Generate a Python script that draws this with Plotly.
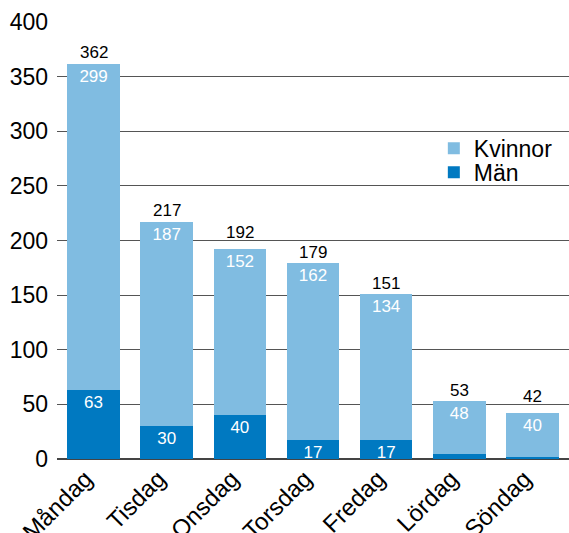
import plotly.graph_objects as go

days = ["Måndag", "Tisdag", "Onsdag", "Torsdag", "Fredag", "Lördag", "Söndag"]
man = [63, 30, 40, 17, 17, 5, 2]
kvinnor = [299, 187, 152, 162, 134, 48, 40]
totals = [m + k for m, k in zip(man, kvinnor)]

LIGHT = "#80bce1"
DARK = "#0079c1"
FONT = "Liberation Sans, Arial, Helvetica, sans-serif"

YMAX = 400
PLOT_H = 533 - 22 - 74
PX_PER_UNIT = PLOT_H / YMAX

fig = go.Figure()
fig.add_trace(go.Bar(
    x=days, y=man, name="Män", marker=dict(color=DARK, line=dict(width=0)),
    text=[str(v) if v >= 10 else "" for v in man],
    textposition="inside", insidetextanchor="end", textangle=0,
    constraintext="none", legend="legend2",
    textfont=dict(color="white", size=17, family=FONT),
))
fig.add_trace(go.Bar(
    x=days, y=kvinnor, name="Kvinnor", marker=dict(color=LIGHT, line=dict(width=0)),
    text=[str(v) for v in kvinnor],
    textposition="inside", insidetextanchor="end", textangle=0,
    constraintext="none", legend="legend",
    textfont=dict(color="white", size=17, family=FONT),
))

# total labels above the stacks, nudged up when they would sit on a gridline
for d, t in zip(days, totals):
    off = 11
    centre = t + off / PX_PER_UNIT
    nearest = round(centre / 50) * 50
    if abs(centre - nearest) * PX_PER_UNIT < 8:
        off = 17
    fig.add_annotation(x=d, y=t, text=str(t), showarrow=False, yanchor="middle",
                       yshift=off, font=dict(color="black", size=17, family=FONT))

legend_common = dict(xanchor="left", yanchor="top", font=dict(size=23, family=FONT),
                     bgcolor="rgba(0,0,0,0)", itemwidth=30)

fig.update_layout(
    width=569, height=533,
    barmode="stack", bargap=0.28,
    plot_bgcolor="white", paper_bgcolor="white",
    margin=dict(l=57, r=0, t=22, b=74, autoexpand=False),
    font=dict(family=FONT, color="black"),
    showlegend=True,
    legend=dict(x=0.736, y=0.76, **legend_common),
    legend2=dict(x=0.736, y=0.705, **legend_common),
    xaxis=dict(
        tickangle=-45, tickfont=dict(size=24, family=FONT),
        showgrid=False, showline=False, ticks="", automargin=False,
        ticklabelshift=-8,
    ),
    yaxis=dict(
        range=[0, YMAX], tickvals=[0, 50, 100, 150, 200, 250, 300, 350, 400],
        tickfont=dict(size=23, family=FONT),
        showgrid=True, gridcolor="#555555", gridwidth=1.2,
        zeroline=True, zerolinecolor="#444444", zerolinewidth=2,
        showline=False, ticks="", ticklabelstandoff=8, automargin=False,
    ),
)

fig.write_html("out.html", post_script="document.body.style.margin='0px';",
               config={"displayModeBar": False})
